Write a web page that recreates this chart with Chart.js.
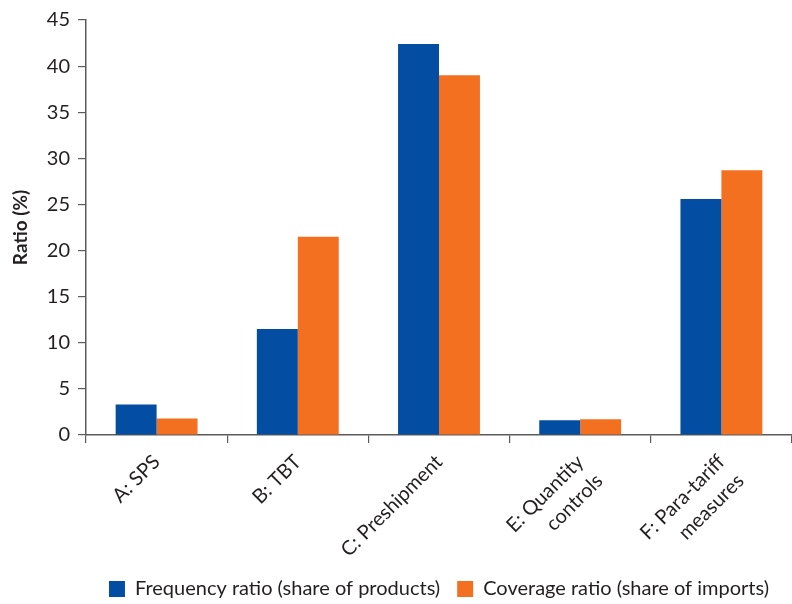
<!DOCTYPE html>
<html>
<head>
<meta charset="utf-8">
<script src="https://cdn.jsdelivr.net/npm/chart.js@4/dist/chart.umd.min.js"></script>
<style>
  html, body { margin: 0; padding: 0; background: #ffffff; }
  #wrap { width: 792px; height: 604px; position: relative; }
</style>
</head>
<body>
<div id="wrap"><canvas id="chart"></canvas></div>
<script>
// Non-tariff measure categories
const categories = [
  'A: SPS',
  'B: TBT',
  'C: Preshipment',
  ['E: Quantity', 'controls'],
  ['F: Para-tariff', 'measures']
];
// Frequency ratio (share of products), %
const frequencyRatio = [3.3, 11.5, 42.4, 1.6, 25.6];
// Coverage ratio (share of imports), %
const coverageRatio = [1.8, 21.5, 39.0, 1.7, 28.7];
// Y axis ticks
const yTicks = [0, 5, 10, 15, 20, 25, 30, 35, 40, 45];

const seriesNames = ['Frequency ratio (share of products)', 'Coverage ratio (share of imports)'];
const BLUE = '#034ea2';
const ORANGE = '#f37021';
const TEXT = '#231f20';
const AXIS = '#5b5b5b';
const FONT = 'Lato, "Open Sans", sans-serif';

new Chart(document.getElementById('chart'), {
  type: 'bar',
  data: {
    labels: categories,
    datasets: [
      { label: seriesNames[0], data: frequencyRatio, backgroundColor: BLUE, borderWidth: 0 },
      { label: seriesNames[1], data: coverageRatio, backgroundColor: ORANGE, borderWidth: 0 }
    ]
  },
  options: {
    responsive: true,
    maintainAspectRatio: false,
    animation: false,
    devicePixelRatio: 1,
    datasets: { bar: { categoryPercentage: 0.58, barPercentage: 1.0 } },
    layout: { padding: { top: 16, right: 0, left: 0, bottom: -5 } },
    plugins: {
      tooltip: { enabled: false },
      legend: {
        position: 'bottom',
        fullSize: false,
        labels: {
          boxWidth: 16,
          boxHeight: 16,
          padding: 17,
          color: TEXT,
          font: { family: FONT, size: 20 }
        }
      }
    },
    scales: {
      x: {
        grid: {
          display: true,
          drawOnChartArea: false,
          offset: true,
          tickLength: 8,
          color: AXIS,
          tickColor: AXIS,
          lineWidth: 1.2
        },
        border: { display: true, color: AXIS, width: 1.5 },
        ticks: {
          color: TEXT,
          font: { family: FONT, size: 20, lineHeight: 1.35 },
          maxRotation: 45,
          minRotation: 45,
          padding: 6,
          autoSkip: false
        },
        afterFit(scale) { scale.height = 127; }
      },
      y: {
        min: 0,
        max: 45,
        afterBuildTicks(scale) { scale.ticks = yTicks.map(v => ({ value: v })); },
        grid: {
          display: true,
          drawOnChartArea: false,
          tickLength: 8,
          color: AXIS,
          tickColor: AXIS,
          lineWidth: 1.2
        },
        border: { display: true, color: AXIS, width: 1.5 },
        ticks: {
          color: TEXT,
          font: { family: FONT, size: 20 },
          padding: 8
        },
        title: {
          display: true,
          text: 'Ratio (%)',
          color: TEXT,
          font: { family: FONT, size: 19, weight: 'bold' },
          padding: { top: 9, bottom: 4 }
        },
        afterFit(scale) { scale.width = 86; }
      }
    }
  }
});
</script>
</body>
</html>
